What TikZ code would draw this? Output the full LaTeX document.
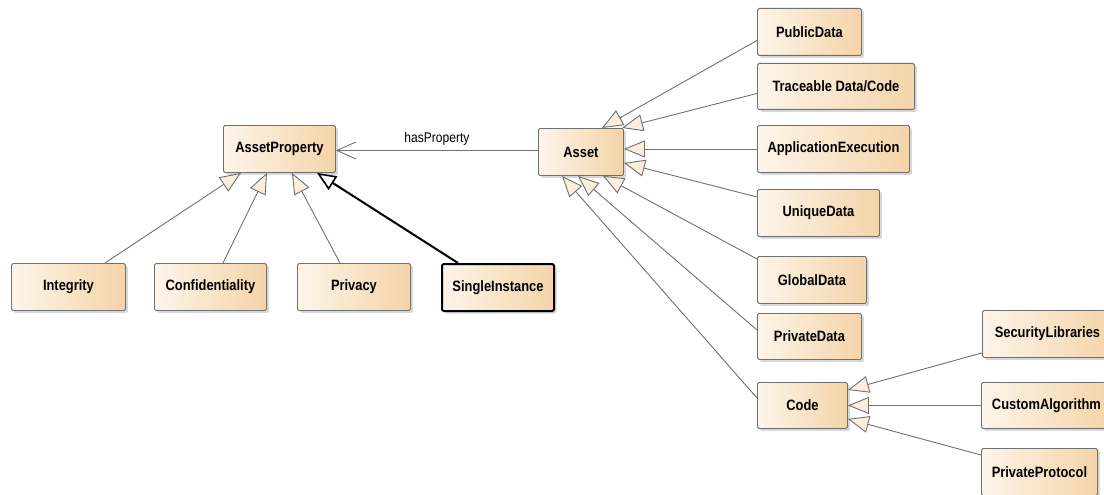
\documentclass[tikz,border=0pt]{standalone}
\usepackage{fontspec}
\setmainfont{Liberation Sans}[FakeStretch=0.86]
\usetikzlibrary{arrows.meta,shadows}

\definecolor{boxL}{HTML}{FDF5EA}
\definecolor{boxR}{HTML}{F4D4A8}
\definecolor{edgeGray}{HTML}{707070}
\definecolor{tipFill}{HTML}{FBEEDC}

\tikzset{
  cls/.style={draw=edgeGray, line width=0.9pt, rounded corners=1.5pt,
    left color=boxL, right color=boxR, anchor=north west,
    inner sep=0pt, minimum height=47pt,
    font=\fontsize{15}{17}\selectfont\bfseries,
    drop shadow={shadow xshift=2.5pt, shadow yshift=-2.5pt, fill=black!35, opacity=0.45}},
  focus/.style={draw=black, line width=2pt},
  gen/.style={draw=edgeGray, line width=0.9pt,
    -{Triangle[length=21pt, width=17pt, fill=tipFill, line width=0.9pt]}},
  genbold/.style={draw=black, line width=2pt,
    -{Triangle[length=19pt, width=16pt, fill=white, line width=1.6pt]}},
  assoc/.style={draw=edgeGray, line width=0.9pt,
    -{Straight Barb[length=19pt, width=17pt, line width=0.9pt]}},
  lbl/.style={font=\fontsize{14}{16}\selectfont, text=black}
}

\begin{document}
\begin{tikzpicture}[x=1pt, y=-1pt]
\useasboundingbox (0,0) rectangle (1104,495);

% property side
\node[cls, minimum width=112pt] (aprop) at (223,125) {AssetProperty};
\node[cls, minimum width=114pt] (integ) at (11,263) {Integrity};
\node[cls, minimum width=112pt] (conf) at (154,263) {Confidentiality};
\node[cls, minimum width=113pt] (priv) at (297,263) {Privacy};
\node[cls, focus, minimum width=112pt] (single) at (441,263) {SingleInstance};

% asset side
\node[cls, minimum width=85pt] (asset) at (538,128) {Asset};
\node[cls, minimum width=104pt] (pub) at (757,8) {PublicData};
\node[cls, minimum width=157pt, minimum height=46pt] (trace) at (757,63) {Traceable Data/Code};
\node[cls, minimum width=152pt] (appex) at (757,125) {ApplicationExecution};
\node[cls, minimum width=122pt] (uniq) at (757,189) {UniqueData};
\node[cls, minimum width=109pt] (glob) at (757,256) {GlobalData};
\node[cls, minimum width=104pt, minimum height=46pt] (privd) at (757,313) {PrivateData};
\node[cls, minimum width=90pt, minimum height=46pt] (code) at (757,382) {Code};

% code specialisations
\node[cls, minimum width=130pt] (seclib) at (982,310) {SecurityLibraries};
\node[cls, minimum width=130pt, minimum height=46pt] (custom) at (981,382) {CustomAlgorithm};
\node[cls, minimum width=116pt] (pprot) at (981,448) {PrivateProtocol};

% generalisations of AssetProperty
\draw[gen] ([xshift=94pt]integ.north west) -- ([xshift=18pt]aprop.south west);
\draw[gen] ([xshift=69pt]conf.north west) -- ([xshift=44pt]aprop.south west);
\draw[gen] ([xshift=43pt]priv.north west) -- ([xshift=69pt]aprop.south west);
\draw[genbold] ([xshift=17pt]single.north west) -- ([xshift=94pt]aprop.south west);

% association
\draw[assoc] ([yshift=1.5pt]asset.west) -- node[lbl, above=1pt, pos=0.5] {hasProperty} ([yshift=1.5pt]asset.west -| aprop.east);

% generalisations of Asset
\draw[gen] ([yshift=-8.5pt]pub.west) -- ([xshift=64pt]asset.north west);
\draw[gen] ([yshift=-7pt]trace.west) -- ([xshift=84pt]asset.north west);
\draw[gen] (appex.west) -- (appex.west -| asset.east);
\draw[gen] ([yshift=-8pt]uniq.north west) -- ([yshift=13pt]asset.south east);
\draw[gen] ([yshift=-3pt]glob.north west) -- ([xshift=65pt]asset.south west);
\draw[gen] ([yshift=-17pt]privd.north west) -- ([xshift=40pt]asset.south west);
\draw[gen] ([yshift=-16pt]code.north west) -- ([xshift=24pt]asset.south west);

% generalisations of Code
\draw[gen] ([yshift=5pt]seclib.south west) -- ([yshift=-8pt]code.north east);
\draw[gen] (custom.west) -- (custom.west -| code.east);
\draw[gen] ([yshift=-7pt]pprot.north west) -- ([yshift=10pt]code.south east);
\end{tikzpicture}
\end{document}
